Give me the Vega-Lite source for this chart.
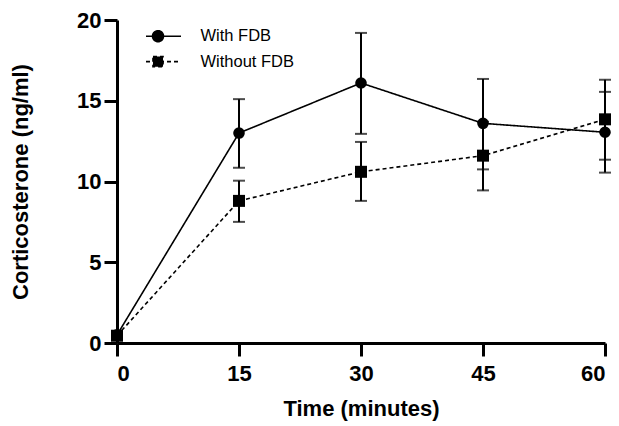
{
  "$schema": "https://vega.github.io/schema/vega-lite/v6.json",
  "width": 488,
  "height": 323,
  "autosize": {"type": "none"},
  "padding": {"left": 117, "top": 20, "right": 14, "bottom": 83},
  "background": "white",
  "config": {
    "view": {"stroke": null},
    "axis": {
      "grid": false,
      "domainColor": "black",
      "domainWidth": 3,
      "tickColor": "black",
      "tickWidth": 3,
      "tickSize": 13,
      "labelFont": "Liberation Sans",
      "labelFontWeight": "bold",
      "labelFontSize": 22,
      "labelColor": "black",
      "titleFont": "Liberation Sans",
      "titleFontWeight": "bold",
      "titleFontSize": 22,
      "titleColor": "black"
    }
  },
  "data": {
    "values": [
      {"time": 0, "series": "With FDB", "mean": 0.5, "lo": 0.3, "hi": 0.7},
      {"time": 15, "series": "With FDB", "mean": 13.0, "lo": 10.85, "hi": 15.1},
      {"time": 30, "series": "With FDB", "mean": 16.1, "lo": 12.95, "hi": 19.2},
      {"time": 45, "series": "With FDB", "mean": 13.6, "lo": 10.75, "hi": 16.35},
      {"time": 60, "series": "With FDB", "mean": 13.05, "lo": 10.55, "hi": 15.55},
      {"time": 0, "series": "Without FDB", "mean": 0.45, "lo": 0.3, "hi": 0.6},
      {"time": 15, "series": "Without FDB", "mean": 8.8, "lo": 7.5, "hi": 10.05},
      {"time": 30, "series": "Without FDB", "mean": 10.6, "lo": 8.8, "hi": 12.45},
      {"time": 45, "series": "Without FDB", "mean": 11.6, "lo": 9.45, "hi": 13.7},
      {"time": 60, "series": "Without FDB", "mean": 13.85, "lo": 11.35, "hi": 16.3}
    ]
  },
  "encoding": {
    "x": {
      "field": "time",
      "type": "quantitative",
      "scale": {"domain": [0, 60], "nice": false, "zero": false},
      "axis": {"values": [0, 15, 30, 45, 60], "title": "Time (minutes)", "labelPadding": 7, "titlePadding": 14}
    }
  },
  "layer": [
    {
      "mark": {"type": "line", "color": "black", "strokeWidth": 1.6},
      "encoding": {
        "y": {
          "field": "mean",
          "type": "quantitative",
          "scale": {"domain": [0, 20], "nice": false},
          "axis": {"values": [0, 5, 10, 15, 20], "title": "Corticosterone (ng/ml)", "labelPadding": 3, "titlePadding": 44}
        },
        "strokeDash": {
          "field": "series",
          "type": "nominal",
          "scale": {"domain": ["With FDB", "Without FDB"], "range": [[1, 0], [4, 3]]},
          "legend": {
            "title": null,
            "orient": "none",
            "legendX": 32.5,
            "legendY": 7.7,
            "padding": 0,
            "symbolSize": 225,
            "symbolStrokeWidth": 1.6,
            "symbolStrokeColor": "black",
            "symbolFillColor": "black",
            "labelFont": "Liberation Sans",
            "labelFontSize": 16.5,
            "labelColor": "black",
            "labelOffset": 34,
            "rowPadding": 7.4,
            "encode": {
              "symbols": {
                "update": {
                  "shape": {"signal": "datum.value === 'With FDB' ? 'M-1.6,0L3.07,0M0.73,0A0.73,0.73,0,1,1,-0.73,0A0.73,0.73,0,1,1,0.73,0Z' : 'M-1.6,0L3.07,0M-0.67,-0.67L0.67,-0.67L0.67,0.67L-0.67,0.67Z'"},
                  "fill": {"value": "black"},
                  "stroke": {"value": "black"},
                  "strokeWidth": {"value": 1.6},
                  "opacity": {"value": 1}
                }
              }
            }
          }
        }
      }
    },
    {
      "mark": {"type": "rule", "color": "black", "strokeWidth": 2},
      "encoding": {
        "y": {"field": "lo", "type": "quantitative"},
        "y2": {"field": "hi"}
      }
    },
    {
      "mark": {"type": "tick", "color": "black", "orient": "horizontal", "size": 12, "thickness": 2},
      "encoding": {"y": {"field": "lo", "type": "quantitative"}}
    },
    {
      "mark": {"type": "tick", "color": "black", "orient": "horizontal", "size": 12, "thickness": 2},
      "encoding": {"y": {"field": "hi", "type": "quantitative"}}
    },
    {
      "transform": [{"filter": "datum.series === 'With FDB'"}],
      "mark": {"type": "point", "shape": "circle", "filled": true, "color": "black", "opacity": 1, "size": 135},
      "encoding": {"y": {"field": "mean", "type": "quantitative"}}
    },
    {
      "transform": [{"filter": "datum.series === 'Without FDB'"}],
      "mark": {"type": "point", "shape": "square", "filled": true, "color": "black", "opacity": 1, "size": 144},
      "encoding": {"y": {"field": "mean", "type": "quantitative"}}
    }
  ]
}
